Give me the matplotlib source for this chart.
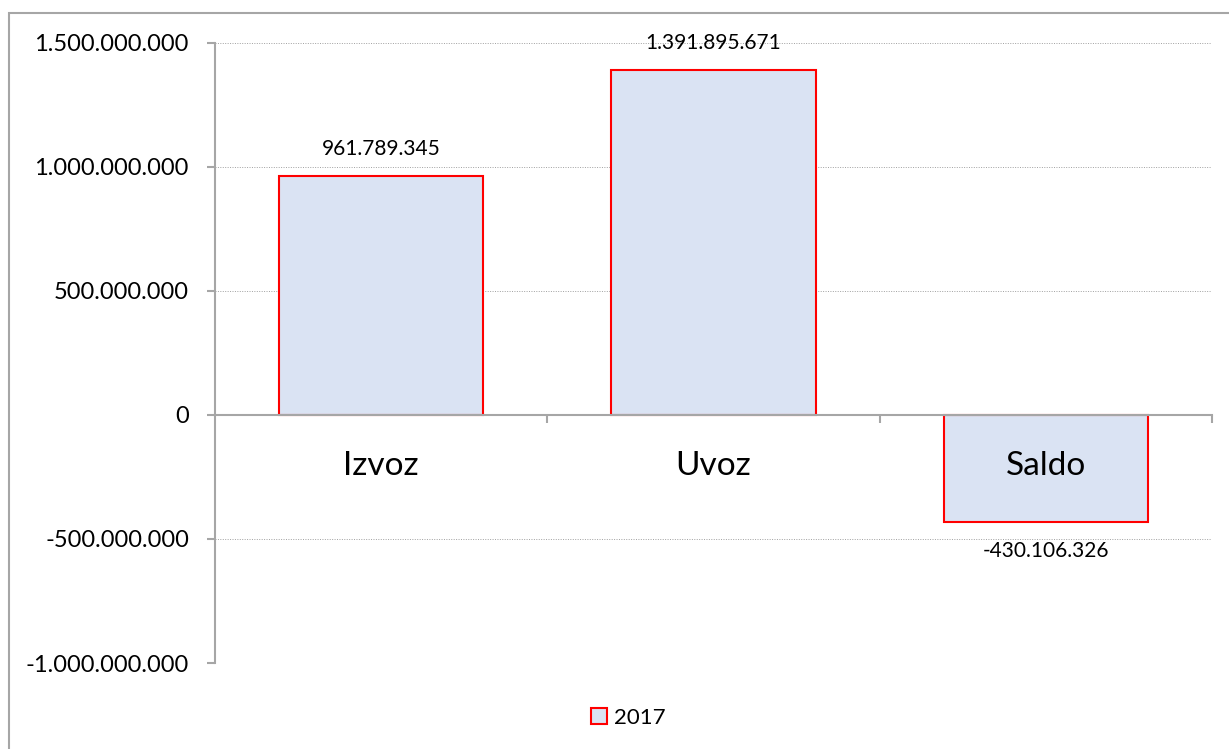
import matplotlib.pyplot as plt
from matplotlib.patches import Rectangle
from matplotlib.ticker import FuncFormatter, FixedLocator
import matplotlib.transforms as mtransforms

categories = ['Izvoz', 'Uvoz', 'Saldo']
values = [961789345, 1391895671, -430106326]
series_name = '2017'

plt.rcParams['font.family'] = ['Lato', 'DejaVu Sans']


def dot_fmt(v, pos=None):
    s = f'{abs(int(round(v))):,}'.replace(',', '.')
    return '-' + s if v < 0 else s


fig = plt.figure(figsize=(12.29, 7.49), dpi=100)
ax = fig.add_axes([215 / 1229, 1 - 663 / 749, (1212 - 215) / 1229, 620 / 749])

# outer chart border
fig.patches.append(Rectangle((9 / 1229, -0.02), 1.0, 1 - 13 / 749 + 0.02,
                             transform=fig.transFigure, fill=False,
                             edgecolor='#a6a6a6', linewidth=1.5, zorder=0))

x = list(range(len(categories)))
bars = ax.bar(x, values, width=0.615, color='#dae3f3', edgecolor='#ff0000',
              linewidth=1.5, label=series_name, zorder=3)

ax.set_xlim(-0.5, len(categories) - 0.5)
ax.set_ylim(-1e9, 1.5e9)
ax.set_yticks([-1e9, -5e8, 0, 5e8, 1e9, 1.5e9])
ax.yaxis.set_major_formatter(FuncFormatter(dot_fmt))
ax.grid(axis='y', linestyle=(0, (1, 1.5)), color='#a0a0a0', linewidth=0.7, zorder=0)

for side in ['top', 'right']:
    ax.spines[side].set_visible(False)
ax.spines['left'].set_color('#a6a6a6')
ax.spines['left'].set_linewidth(1.5)
ax.spines['bottom'].set_position(('data', 0))
ax.spines['bottom'].set_color('#a6a6a6')
ax.spines['bottom'].set_linewidth(1.5)
ax.spines['bottom'].set_zorder(4)

ax.tick_params(axis='y', length=5.8, width=1.5, color='#a6a6a6', pad=13,
               labelsize=17, labelcolor='black')

# boundary ticks below zero line, category names as text on top of bars
ax.set_xticks([])
ax.xaxis.set_minor_locator(FixedLocator([0.5, 1.5, 2.5]))
ax.tick_params(axis='x', which='minor', length=5.8, width=1.5, color='#a6a6a6',
               direction='out')
cat_off = mtransforms.offset_copy(ax.transData, fig=fig, x=0, y=-51, units='dots')
for xi, name in zip(x, categories):
    ax.text(xi, 0, name, ha='center', va='center', fontsize=24,
            transform=cat_off, zorder=6)

# data labels
for xi, v in zip(x, values):
    dy = 27 if v >= 0 else -29
    off = mtransforms.offset_copy(ax.transData, fig=fig, x=0, y=dy, units='dots')
    ax.text(xi, v, dot_fmt(v), ha='center', va='center', fontsize=15,
            transform=off, zorder=6)

leg = fig.legend(loc='center', bbox_to_anchor=(628 / 1229, 1 - 718 / 749),
                 frameon=False, fontsize=16, handlelength=0.75, handleheight=0.75,
                 handletextpad=0.3)

fig.savefig('out.png', dpi=100)
